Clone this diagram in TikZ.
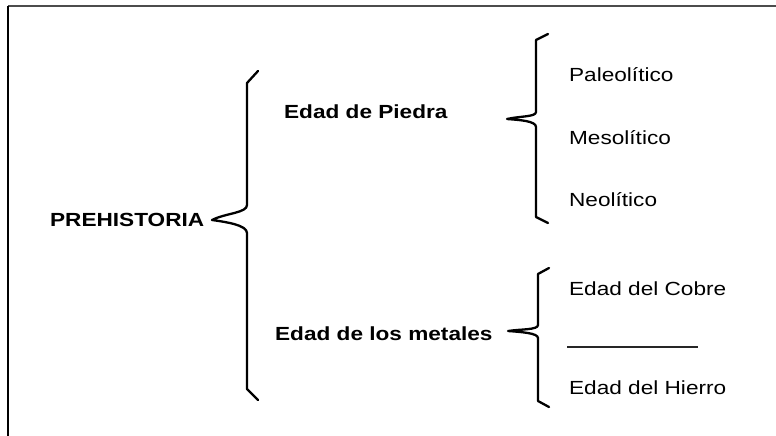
\documentclass[tikz,border=0pt]{standalone}
\usepackage{fontspec}
\newfontfamily\diagfont[FakeStretch=1.19]{Liberation Sans}
\begin{document}
\begin{tikzpicture}[x=1pt,y=-1pt,line width=2.3pt,line join=round,line cap=round,
  lbl/.style={anchor=base west,inner sep=0pt,font=\diagfont\fontsize{19}{22}\selectfont},
  lblb/.style={lbl,font=\diagfont\bfseries\fontsize{19}{22}\selectfont}]
\useasboundingbox (0,0) rectangle (776,436);
\fill[white] (0,0) rectangle (776,436);
% marco
\draw[line width=2pt,line cap=butt,black!70] (8,5.7)--(776,5.7);
\draw[line width=1.8pt,line cap=butt] (8,5.7)--(8,436);
% textos
\node[lblb] (pre) at (49,226.7) {PREHISTORIA};
\node[lblb] (piedra) at (283,118.5) {Edad de Piedra};
\node[lblb] (metal) at (274,340) {Edad de los metales};
\node[lbl] (paleo) at (568,81.7) {Paleolítico};
\node[lbl] (meso) at (568,144) {Mesolítico};
\node[lbl] (neo) at (568,206) {Neolítico};
\node[lbl] (cobre) at (568,295) {Edad del Cobre};
\node[lbl] (hierro) at (568,394) {Edad del Hierro};
% llaves
\coordinate (t1) at (212,220);
\coordinate (t2) at (507,119);
\coordinate (t3) at (508,331);
\draw (258,71)--(247,83)--(247,205) .. controls (247,213) and (226,213) .. (t1)
  .. controls (226,222) and (247,225) .. (247,233)--(247,389)--(258,400);
\draw (548,34)--(536,40)--(536,112) .. controls (536,117) and (520,116) .. (t2)
  .. controls (520,120) and (536,121) .. (536,127)--(536,217)--(548,223);
\draw (549,268)--(538,274)--(538,325) .. controls (538,330) and (521,329) .. (t3)
  .. controls (521,332) and (538,333) .. (538,338)--(538,401)--(549,407);
% separador
\draw[line width=1.7pt,line cap=butt,black!85] (567,347)--(698,347);
\end{tikzpicture}
\end{document}
